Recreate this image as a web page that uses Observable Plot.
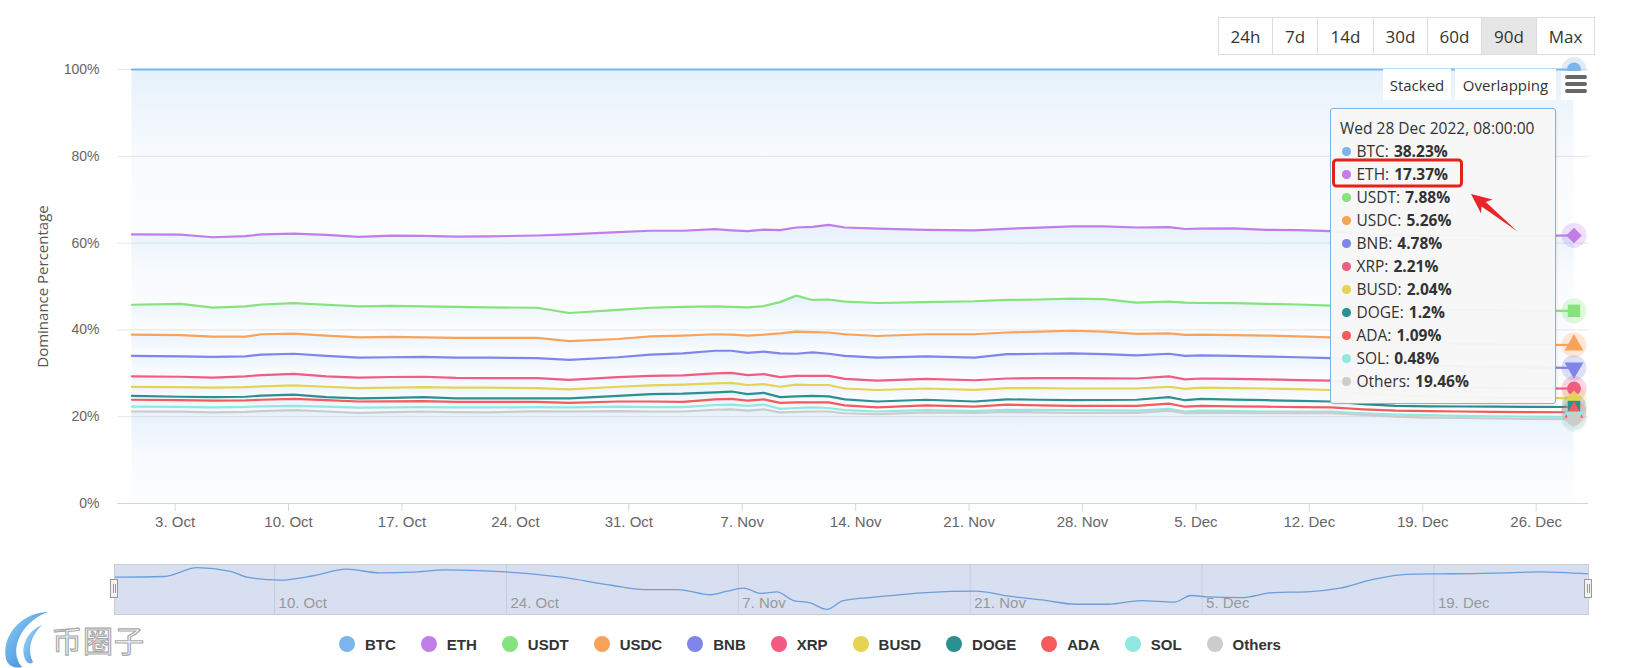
<!DOCTYPE html>
<html><head><meta charset="utf-8">
<script src="https://cdn.jsdelivr.net/npm/d3@7"></script>
<script src="https://cdn.jsdelivr.net/npm/@observablehq/plot@0.6"></script>
<style>
html,body{margin:0;padding:0;background:#fff;overflow:hidden;}
#root{position:relative;width:1630px;height:668px;overflow:hidden;font-family:"Liberation Sans",Arial,sans-serif;}
#root svg{position:absolute;left:0;}
.btns{position:absolute;top:17px;left:1219px;display:flex;height:38px;}
.btns div{box-sizing:border-box;height:38px;border:1px solid #dcdcdc;margin-left:-1px;background:#fff;font:17px "Open Sans",sans-serif;color:#333;display:flex;align-items:center;justify-content:center;}
.btns div.sel{background:#e6e6e6;}
.opt{position:absolute;top:69px;height:31px;background:#fff;font:15px "Open Sans",sans-serif;color:#333;display:flex;align-items:center;justify-content:center;}
.menu{position:absolute;left:1561px;top:71px;width:30px;height:29px;background:#fff;}
.menu i{position:absolute;left:4px;width:22px;height:3.6px;border-radius:2px;background:#666;}
.tip{position:absolute;left:1330px;top:108px;width:226px;height:296px;box-sizing:border-box;border:1px solid #7cb5ec;border-radius:3px;background:rgba(247,247,247,0.96);padding:8px 0 0 9px;font:15.5px "Open Sans",sans-serif;color:#333;line-height:23px;box-shadow:1px 1px 3px rgba(0,0,0,0.08);}
.tip .row{display:flex;align-items:center;}
.tip .dot{display:inline-block;width:8.5px;height:8.5px;border-radius:50%;margin:0 6px 0 2px;}
.tip b{font-weight:700;margin-left:5px;}
.legend{position:absolute;top:632px;left:-5px;width:1630px;height:24px;display:flex;justify-content:center;align-items:center;font:bold 15px "Liberation Sans",Arial,sans-serif;color:#333;}
.legend .it{display:flex;align-items:center;margin:0 12.5px;}
.legend .sw{width:16px;height:16px;border-radius:50%;margin-right:10px;}
.handle{position:absolute;top:579px;width:8px;height:19px;box-sizing:border-box;background:#f2f2f2;border:1px solid #999;}
.handle i{position:absolute;top:4px;width:1px;height:9px;background:#999;}
.wm{position:absolute;left:52px;top:617px;font:30px "Noto Sans CJK SC",sans-serif;color:#fff;-webkit-text-stroke:1.2px #a9a9a9;letter-spacing:1px;}
</style></head><body><div id="root"></div><script>
// ---- data (daily dominance, %) ----
const dates = ["2022-09-30","2022-10-03","2022-10-05","2022-10-07","2022-10-08","2022-10-10","2022-10-12","2022-10-14","2022-10-16","2022-10-18",
  "2022-10-20","2022-10-22","2022-10-25","2022-10-27","2022-10-30","2022-11-01","2022-11-03","2022-11-05","2022-11-06","2022-11-07",
  "2022-11-08","2022-11-09","2022-11-10","2022-11-11","2022-11-12","2022-11-13","2022-11-15","2022-11-18","2022-11-21","2022-11-23",
  "2022-11-25","2022-11-27","2022-11-29","2022-12-01","2022-12-03","2022-12-04","2022-12-05","2022-12-07","2022-12-09","2022-12-11",
  "2022-12-13","2022-12-15","2022-12-17","2022-12-19","2022-12-21","2022-12-23","2022-12-25","2022-12-28"];
const BTC = [38.0,38.05,38.65,38.4,38.0,37.8,38.1,38.55,38.3,38.35,38.5,38.45,38.25,38.0,37.45,37.15,37.15,36.8,37.05,37.25,36.9,37.0,36.4,36.25,35.8,36.4,36.65,36.95,37.05,36.7,36.45,36.15,36.15,36.4,36.3,36.75,36.65,36.6,36.95,37.0,37.25,37.85,38.2,38.23,38.25,38.3,38.37,38.23];
const ETH = [16.2,15.95,16.2,16.2,16.15,16.05,16.1,16.05,16.15,16.25,16.2,16.35,16.65,18.1,17.95,17.75,17.55,17.8,17.65,17.55,17.6,16.6,15.7,16.85,17.2,17.1,17.15,16.65,16.35,16.4,16.55,16.65,16.75,17.3,17.2,16.95,17.15,17.25,17.05,17.15,17.15,17.05,17.0,17.07,17.15,17.15,17.18,17.37];
const USDT = [6.9,7.2,6.7,6.95,6.85,7.0,7.1,7.1,7.15,7.1,7.15,7.05,6.95,6.5,6.7,6.6,6.6,6.4,6.4,6.5,6.6,7.2,8.3,7.4,7.6,7.5,7.6,7.4,7.6,7.5,7.4,7.4,7.5,7.2,7.3,7.45,7.3,7.35,7.3,7.35,7.3,7.5,7.7,7.8,7.8,7.85,7.85,7.88];
const USDC = [4.9,4.9,4.65,4.55,4.7,4.65,4.7,4.7,4.7,4.5,4.55,4.55,4.65,4.3,4.2,4.2,4.1,3.8,3.7,4.0,3.9,4.6,5.1,4.7,4.9,5.0,5.0,5.1,5.4,5.0,5.1,5.2,5.2,4.95,4.7,4.85,4.75,4.8,4.85,4.8,4.8,4.9,5.0,5.1,5.2,5.25,5.25,5.26];
const BNB = [4.7,4.7,4.8,4.6,4.7,4.65,4.7,4.6,4.55,4.6,4.65,4.7,4.6,4.6,4.6,4.9,5.1,5.2,5.1,5.1,5.2,5.5,5.1,5.4,5.1,5.3,5.3,5.2,5.2,5.6,5.6,5.7,5.55,5.35,5.2,5.4,5.35,5.3,5.25,5.25,5.2,5.1,5.0,4.9,4.85,4.8,4.8,4.78];
const XRP = [2.45,2.4,2.3,2.5,2.6,2.65,2.4,2.4,2.45,2.4,2.25,2.2,2.3,2.2,2.2,2.2,2.1,2.3,2.3,2.3,2.3,2.2,2.0,2.1,2.1,2.2,2.15,2.2,2.2,2.2,2.3,2.4,2.35,2.3,2.4,2.2,2.1,2.1,2.1,2.1,2.15,2.2,2.2,2.2,2.25,2.25,2.25,2.21];
const BUSD = [2.05,2.2,2.2,2.2,2.15,2.1,2.4,2.4,2.35,2.3,2.5,2.5,2.4,2.1,2.1,2.0,2.1,2.1,2.0,2.1,2.0,2.4,2.7,2.5,2.6,2.5,2.65,2.6,2.7,2.6,2.7,2.7,2.65,2.6,2.4,2.6,2.6,2.65,2.7,2.7,2.65,2.5,2.4,2.3,2.15,2.1,2.05,2.04];
const DOGE = [0.9,0.8,0.8,0.85,0.95,1.0,0.7,0.7,0.8,0.9,0.8,0.8,0.8,1.0,1.3,1.7,1.9,1.6,1.7,1.5,1.5,1.3,1.4,1.5,1.4,1.4,1.35,1.3,1.2,1.2,1.3,1.3,1.35,1.4,1.5,1.5,1.6,1.55,1.5,1.45,1.35,1.2,1.1,1.1,1.15,1.2,1.2,1.2];
const ADA = [1.6,1.55,1.55,1.5,1.5,1.6,1.5,1.4,1.4,1.4,1.25,1.25,1.2,1.05,1.2,1.3,1.2,1.3,1.3,1.2,1.2,1.4,1.3,1.15,1.3,1.1,0.95,1.1,1.0,1.2,1.05,1.0,1.05,1.1,1.2,1.1,1.1,1.1,1.1,1.05,1.0,0.9,0.9,0.95,1.0,1.0,1.05,1.09];
const SOL = [1.1,1.1,1.15,1.15,1.1,1.0,1.1,1.2,1.1,1.0,1.1,1.15,0.95,0.95,1.0,1.0,1.0,1.1,1.1,1.1,1.1,0.8,0.9,0.95,0.8,0.7,0.6,0.5,0.45,0.5,0.55,0.6,0.55,0.5,0.4,0.4,0.5,0.45,0.4,0.35,0.35,0.4,0.5,0.55,0.5,0.5,0.5,0.48];
const Others = [21.2,21.15,21.0,21.1,21.3,21.5,21.2,20.9,21.05,21.2,21.05,21.0,21.25,21.2,21.3,21.2,21.2,21.6,21.7,21.4,21.7,21.0,21.1,21.2,21.2,20.8,20.6,21.0,20.85,21.1,21.0,20.9,20.9,20.9,21.4,20.8,20.9,20.85,20.8,20.8,20.8,20.4,20.0,19.8,19.7,19.6,19.5,19.46];

const coins = ["BTC","ETH","USDT","USDC","BNB","XRP","BUSD","DOGE","ADA","SOL","Others"];
const colors = ["#7cb5ec","#c17ee8","#86e27d","#f7a35c","#8085e9","#f15c80","#e4d354","#2b908f","#f45b5b","#91e8e1","#cccccc"];
const xTickLabels = ["2022-10-03","2022-10-10","2022-10-17","2022-10-24","2022-10-31","2022-11-07","2022-11-14","2022-11-21","2022-11-28","2022-12-05","2022-12-12","2022-12-19","2022-12-26"];
const navTickLabels = ["2022-10-10","2022-10-24","2022-11-07","2022-11-21","2022-12-05","2022-12-19"];
const yTicks = [0, 0.2, 0.4, 0.6, 0.8, 1];
const rangeButtons = ["24h","7d","14d","30d","60d","90d","Max"];
const rangeWidths = [55,46,57,55,55,56,59];
const viewButtons = ["Stacked","Overlapping"];

// ---- build ----
const series = {BTC, ETH, USDT, USDC, BNB, XRP, BUSD, DOGE, ADA, SOL, Others};
const atData = s => new Date(s + "T08:00:00Z");
const atMidnight = s => new Date(s + "T00:00:00Z");
const data = [];
coins.forEach(c => series[c].forEach((v, i) => data.push({date: atData(dates[i]), coin: c, value: v})));
const lastDate = atData(dates[dates.length - 1]);
const last = data.filter(d => +d.date === +lastDate);
const stackOpts = {x: "date", y: "value", z: "coin", order: coins.slice().reverse(), offset: "normalize"};
const fmtDay = d => `${d.getUTCDate()}. ${d3.utcFormat("%b")(d)}`;

const triDown = {draw(ctx, size) {
  const y = -Math.sqrt(size / (Math.sqrt(3) * 3));
  ctx.moveTo(0, -2 * y); ctx.lineTo(-Math.sqrt(3) * y, y); ctx.lineTo(Math.sqrt(3) * y, y); ctx.closePath();
}};
const symbolRange = ["circle","diamond2","square","triangle",triDown,"circle","diamond2","square","triangle",triDown,"circle"];

const root = document.getElementById("root");
const xTicks = xTickLabels.map(atMidnight);

const main = Plot.plot({
  width: 1630, height: 540,
  marginLeft: 117, marginRight: 42, marginTop: 69, marginBottom: 37,
  style: {fontFamily: '"Liberation Sans", Arial, sans-serif', fontSize: "14px", background: "transparent", overflow: "visible"},
  x: {type: "utc", domain: [new Date("2022-09-29T10:40:00Z"), new Date("2022-12-29T05:30:00Z")]},
  y: {domain: [0, 1]},
  color: {domain: coins, range: colors},
  symbol: {domain: coins, range: symbolRange},
  marks: [
    Plot.gridY(yTicks, {stroke: "#e6e6e6", strokeOpacity: 1}),
    Plot.areaY(data, Plot.stackY({...stackOpts, fill: "url(#bandGrad)"})),
    Plot.ruleY([0], {stroke: "#ccd6eb"}),
    Plot.lineY(data, Plot.stackY2({...stackOpts, stroke: "coin", strokeWidth: 2.2})),
    Plot.dot(last, Plot.stackY2({...stackOpts, fill: "coin", r: 12.5, fillOpacity: 0.25})),
    Plot.dot(last, Plot.stackY2({...stackOpts, fill: "coin", symbol: "coin", r: 7})),
    Plot.axisY({ticks: yTicks, tickFormat: d3.format(".0%"), tickSize: 0, tickPadding: 18, fontSize: 14, color: "#666", label: null}),
    Plot.axisX({ticks: xTicks, tickFormat: () => "", tickSize: 8, color: "#ccd6eb", label: null}),
    Plot.axisX({ticks: xTicks, tickFormat: fmtDay, tickSize: 0, tickPadding: 13, fontSize: 15, color: "#666", label: null}),
    Plot.text(["Dominance Percentage"], {frameAnchor: "left", textAnchor: "middle", lineAnchor: "middle", dx: -74, rotate: -90, fontSize: 15, fill: "#555", fontFamily: "Open Sans"})
  ]
});
const NS = "http://www.w3.org/2000/svg";
const defs = document.createElementNS(NS, "defs");
const grad = document.createElementNS(NS, "linearGradient");
grad.setAttribute("id", "bandGrad"); grad.setAttribute("x1", "0"); grad.setAttribute("y1", "0"); grad.setAttribute("x2", "0"); grad.setAttribute("y2", "1");
[[0, 0.19], [0.55, 0.05], [1, 0.03]].forEach(([o, a]) => {
  const s = document.createElementNS(NS, "stop");
  s.setAttribute("offset", o); s.setAttribute("stop-color", "#7cb5ec"); s.setAttribute("stop-opacity", a);
  grad.appendChild(s);
});
defs.appendChild(grad);
main.insertBefore(defs, main.firstChild);
main.style.top = "0px";
root.appendChild(main);

// navigator (BTC)
const navData = dates.map((d, i) => ({date: atData(d), v: BTC[i]}));
const navTicks = navTickLabels.map(atMidnight);
const nav = Plot.plot({
  width: 1630, height: 90,
  marginLeft: 114, marginRight: 42, marginTop: 24, marginBottom: 16,
  style: {fontFamily: '"Liberation Sans", Arial, sans-serif', background: "transparent", overflow: "visible"},
  x: {type: "utc", domain: [atData(dates[0]), lastDate], axis: null},
  y: {domain: [35.45, 38.87], axis: null},
  marks: [
    Plot.frame({fill: "#d8dff0"}),
    Plot.ruleX(navTicks, {stroke: "#c6cee1"}),
    Plot.lineY(navData, {x: "date", y: "v", stroke: "#6a9edc", strokeWidth: 1.3, curve: "monotone-x"}),
    Plot.text(navTicks, {x: d => d, text: fmtDay, frameAnchor: "bottom", dy: -7, dx: 4, textAnchor: "start", fill: "#999", fontSize: 15}),
    Plot.frame({stroke: "#cccccc"})
  ]
});
nav.style.top = "540px";
root.appendChild(nav);

// handles
[110, 1584].forEach(x => {
  const h = document.createElement("div"); h.className = "handle"; h.style.left = x + "px";
  h.innerHTML = '<i style="left:2px"></i><i style="left:4px"></i>';
  root.appendChild(h);
});

// range buttons
const btns = document.createElement("div"); btns.className = "btns";
rangeButtons.forEach((b, i) => {
  const d = document.createElement("div"); d.textContent = b; d.style.width = rangeWidths[i] + "px";
  if (b === "90d") d.className = "sel";
  btns.appendChild(d);
});
root.appendChild(btns);
[[1383, 68], [1455, 101]].forEach(([x, w], i) => {
  const d = document.createElement("div"); d.className = "opt"; d.style.left = x + "px"; d.style.width = w + "px";
  d.textContent = viewButtons[i]; root.appendChild(d);
});
const menu = document.createElement("div"); menu.className = "menu";
menu.innerHTML = '<i style="top:4px"></i><i style="top:11px"></i><i style="top:18px"></i>';
root.appendChild(menu);

// tooltip
const tip = document.createElement("div"); tip.className = "tip";
let html = `<div>${d3.utcFormat("%a %d %b %Y, %H:%M:%S")(lastDate)}</div>`;
coins.forEach((c, i) => {
  html += `<div class="row"><span class="dot" style="background:${colors[i]}"></span>${c}:<b>${series[c][series[c].length - 1]}%</b></div>`;
});
tip.innerHTML = html;
root.appendChild(tip);

// annotation: red box + arrow
const ann = document.createElementNS(NS, "svg");
ann.setAttribute("width", 1630); ann.setAttribute("height", 668);
ann.style.top = "0px"; ann.style.pointerEvents = "none";
ann.innerHTML = '<rect x="1333.5" y="160" width="128" height="26" rx="3" fill="none" stroke="#e3231b" stroke-width="3"/>' +
  '<polygon fill="#e8262a" points="1471,194 1492.5,199.5 1485.8,202 1517.5,231.5 1481.6,206.5 1481,213.5"/>';
root.appendChild(ann);

// legend
const lg = document.createElement("div"); lg.className = "legend";
coins.forEach((c, i) => {
  const it = document.createElement("div"); it.className = "it";
  it.innerHTML = `<span class="sw" style="background:${colors[i]}"></span><span>${c}</span>`;
  lg.appendChild(it);
});
root.appendChild(lg);

// watermark
const logo = document.createElementNS(NS, "svg");
logo.setAttribute("width", 52); logo.setAttribute("height", 60);
logo.style.top = "609px";
logo.innerHTML = '<defs><linearGradient id="lg1" x1="0" y1="0" x2="1" y2="1"><stop offset="0" stop-color="#8fd0f5"/><stop offset="1" stop-color="#2c7fd8"/></linearGradient></defs>' +
  '<path d="M48,3 C22,3 1,27 6,50 C8,57 15,60 22,58 C9,45 18,14 48,3 Z" fill="url(#lg1)"/>' +
  '<path d="M42,16 C27,22 19,39 26,52 C28,55 32,55 33,53 C27,42 30,27 42,16 Z" fill="url(#lg1)" opacity="0.85"/>';
root.appendChild(logo);
const wm = document.createElement("div"); wm.className = "wm"; wm.textContent = "币圈子";
root.appendChild(wm);
</script></body></html>
